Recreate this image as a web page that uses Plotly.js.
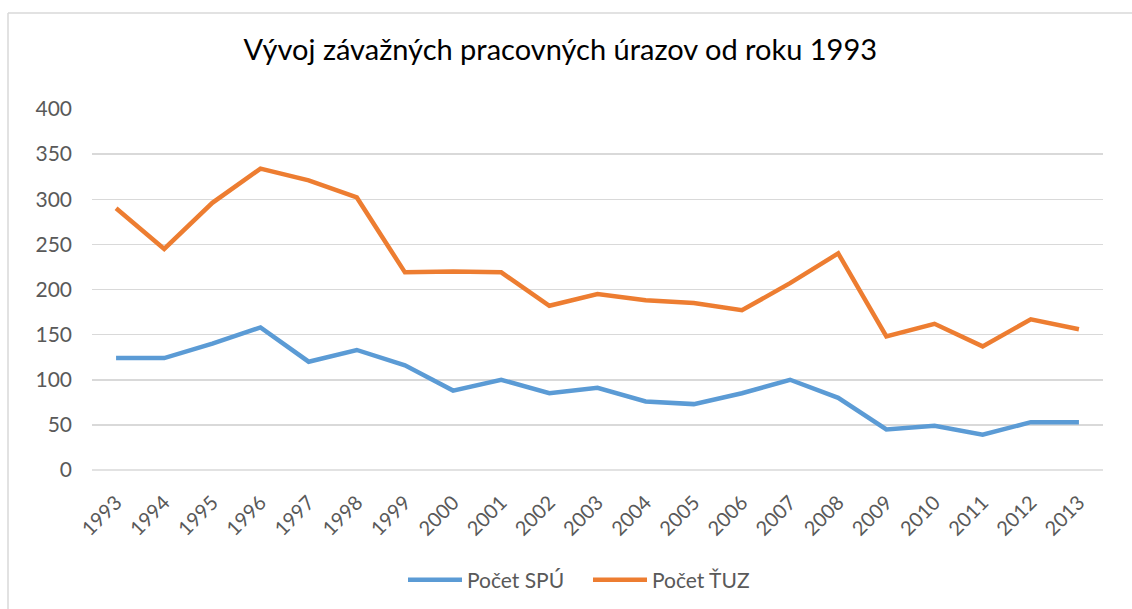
<!DOCTYPE html>
<html>
<head>
<meta charset="utf-8">
<script src="https://cdn.plot.ly/plotly-3.0.1.min.js"></script>
<style>
html,body{margin:0;padding:0;background:#fff;}
#chart{width:1132px;height:609px;}
</style>
</head>
<body>
<div id="chart"></div>
<script>
const years = ["1993","1994","1995","1996","1997","1998","1999","2000","2001","2002","2003","2004","2005","2006","2007","2008","2009","2010","2011","2012","2013"];
const pocetSPU = [124,124,140,158,120,133,116,88,100,85,91,76,73,85,100,80,45,49,39,53,53];
const pocetTUZ = [290,245,296,334,321,302,219,220,219,182,195,188,185,177,207,240,148,162,137,167,156];
const seriesNames = ["Počet SPÚ","Počet ŤUZ"];
const titleText = "Vývoj závažných pracovných úrazov od roku 1993";
const yTicks = [0,50,100,150,200,250,300,350,400];

const FONT = "Lato, 'Open Sans', sans-serif";
const traces = [
  {x: years, y: pocetSPU, name: seriesNames[0], type: "scatter", mode: "lines",
   line: {color: "#5B9BD5", width: 4.5}},
  {x: years, y: pocetTUZ, name: seriesNames[1], type: "scatter", mode: "lines",
   line: {color: "#ED7D31", width: 4.5}}
];

const L = 92, R = 1103, T = 109, B = 470;
const pw = R - L, ph = B - T;
const layout = {
  width: 1132, height: 609,
  margin: {l: L, r: 1132 - R, t: T, b: 609 - B, autoexpand: false},
  paper_bgcolor: "#ffffff", plot_bgcolor: "#ffffff",
  font: {family: FONT, color: "#595959", size: 20},
  title: {text: titleText, x: 0.495, xanchor: "center", y: 0.918, yanchor: "middle",
          font: {family: FONT, size: 29, color: "#000000"}},
  xaxis: {type: "category", range: [-0.5, 20.5], tickangle: -45, showgrid: false,
          showline: false, zeroline: false, ticks: "", ticklabelstandoff: 16,
          tickfont: {size: 20, color: "#595959"}},
  yaxis: {range: [0, 400], tickvals: yTicks, ticktext: yTicks.map(String), showgrid: true,
          gridcolor: "#d9d9d9", gridwidth: 1.5, zeroline: false, showline: false, ticks: "",
          ticklabelstandoff: 19, tickfont: {size: 21, color: "#595959"}},
  showlegend: true,
  legend: {orientation: "h", x: 0.4906, xanchor: "center", y: -0.305, yanchor: "middle",
           font: {size: 21, color: "#595959"}, itemwidth: 54, entrywidth: 116,
           entrywidthmode: "pixels", tracegroupgap: 0},
  shapes: [
    {type: "line", xref: "paper", yref: "paper", x0: (8 - L)/pw, x1: (8 - L)/pw,
     y0: (B - 13)/ph, y1: (B - 700)/ph, line: {color: "#d9d9d9", width: 1.5}},
    {type: "line", xref: "paper", yref: "paper", x0: (8 - L)/pw, x1: (1200 - L)/pw,
     y0: (B - 13)/ph, y1: (B - 13)/ph, line: {color: "#d9d9d9", width: 1.5}},
    {type: "line", xref: "paper", yref: "paper", x0: 0, x1: 1,
     y0: 0, y1: 0, line: {color: "#d9d9d9", width: 1.5}}
  ]
};
Plotly.newPlot("chart", traces, layout, {displayModeBar: false, staticPlot: true});
</script>
</body>
</html>
